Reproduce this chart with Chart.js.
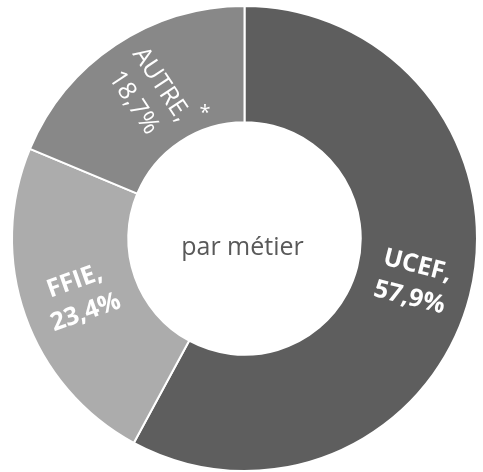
<!DOCTYPE html>
<html>
<head>
<meta charset="utf-8">
<script src="https://cdn.jsdelivr.net/npm/chart.js@4/dist/chart.umd.min.js"></script>
<style>
  html, body { margin: 0; padding: 0; background: #fff; }
  #wrap { width: 483px; height: 472px; }
</style>
</head>
<body>
<div id="wrap"><canvas id="chart"></canvas></div>
<script>
// data
const categories = ['UCEF', 'FFIE', 'AUTRE'];
const shares = [57.9, 23.4, 18.7];
const sliceColors = ['#5e5e5e', '#acacac', '#888888'];
const labelWeights = [700, 700, 400];
const centerText = 'par métier';

// labels written along the radius of each slice, like the original
const sliceLabels = {
  id: 'sliceLabels',
  afterDatasetsDraw(chart) {
    const ctx = chart.ctx;
    const meta = chart.getDatasetMeta(0);
    ctx.save();
    ctx.fillStyle = '#ffffff';
    ctx.textAlign = 'center';
    ctx.textBaseline = 'middle';
    meta.data.forEach((arc, i) => {
      const p = arc.getProps(['x', 'y', 'startAngle', 'endAngle', 'innerRadius', 'outerRadius'], true);
      const mid = (p.startAngle + p.endAngle) / 2;
      const r = (p.innerRadius + p.outerRadius) / 2;
      const x = p.x + Math.cos(mid) * r;
      const y = p.y + Math.sin(mid) * r;
      let rot = mid;
      while (rot > Math.PI / 2) rot -= Math.PI;
      while (rot <= -Math.PI / 2) rot += Math.PI;
      ctx.font = labelWeights[i] + ' 25px "Open Sans"';
      ctx.save();
      ctx.translate(x, y);
      ctx.rotate(rot);
      const val = shares[i].toFixed(1).replace('.', ',') + '%';
      ctx.fillText(categories[i] + ',', 0, -16);
      ctx.fillText(val, 0, 17);
      ctx.restore();

      // footnote mark next to the AUTRE slice
      if (categories[i] === 'AUTRE') {
        const a = p.endAngle - (p.endAngle - p.startAngle) * 0.25;
        const rr = p.innerRadius + (p.outerRadius - p.innerRadius) * 0.17;
        ctx.font = '400 20px "Open Sans"';
        ctx.fillText('*', p.x + Math.cos(a) * rr, p.y + Math.sin(a) * rr + 5);
      }
    });

    // text in the hole
    const c = meta.data[0];
    ctx.fillStyle = '#595959';
    ctx.font = '400 25px "Open Sans"';
    ctx.fillText(centerText, c.x - 2, c.y + 9);
    ctx.restore();
  }
};

new Chart(document.getElementById('chart'), {
  type: 'doughnut',
  data: {
    labels: categories,
    datasets: [{
      data: shares,
      backgroundColor: sliceColors,
      borderColor: '#ffffff',
      borderWidth: 2
    }]
  },
  options: {
    responsive: true,
    maintainAspectRatio: false,
    animation: false,
    cutout: '50%',
    layout: { padding: { top: 5, left: 6, right: 0, bottom: 0 } },
    plugins: {
      legend: { display: false },
      tooltip: { enabled: false }
    }
  },
  plugins: [sliceLabels]
});
</script>
</body>
</html>
